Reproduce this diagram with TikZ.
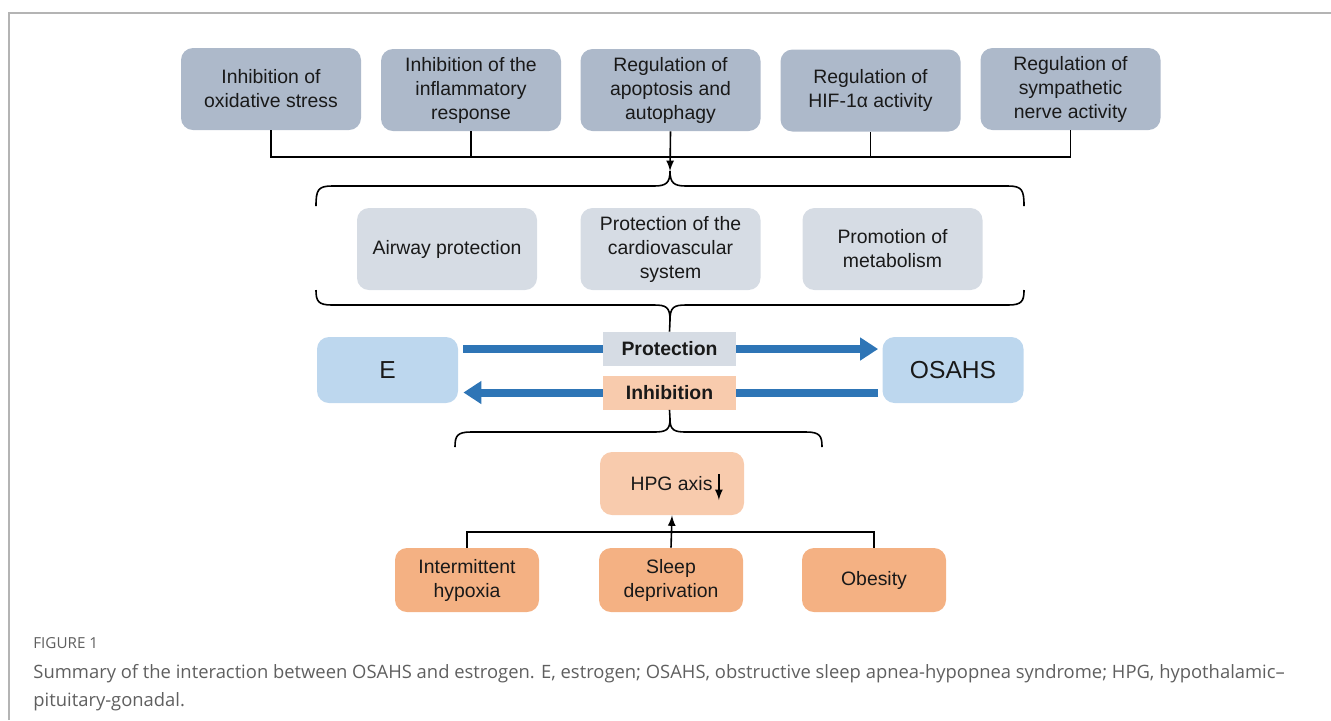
\documentclass[tikz,border=0pt]{standalone}
\usepackage{fontspec}
\setmainfont{Liberation Sans}
\newfontfamily\capfont{Open Sans}
\usetikzlibrary{arrows.meta}
\definecolor{topgray}{HTML}{ADB9CA}
\definecolor{midgray}{HTML}{D6DCE4}
\definecolor{endblue}{HTML}{BDD7EE}
\definecolor{flowblue}{HTML}{2E75B6}
\definecolor{peach}{HTML}{F8CBAD}
\definecolor{causeorange}{HTML}{F4B183}
\definecolor{framegray}{HTML}{B4B4B4}
\definecolor{captext}{HTML}{5F5F5F}
\begin{document}
\begin{tikzpicture}[x=0.5pt,y=-0.5pt,
    box/.style={rounded corners=6pt,align=center,minimum width=90pt,minimum height=41pt,inner sep=2pt,text=black!90,font=\fontsize{9.7}{12}\selectfont},
    topbox/.style={box,fill=topgray},
    midbox/.style={box,fill=midgray},
    endbox/.style={box,fill=endblue,minimum width=70.5pt,minimum height=33pt,font=\fontsize{12.3}{14}\selectfont},
    tagbox/.style={minimum width=66.5pt,minimum height=17pt,inner sep=0pt,text=black!90,font=\bfseries\fontsize{9.7}{12}\selectfont},
    causebox/.style={box,fill=causeorange,minimum width=72pt,minimum height=32pt},
    flow/.style={draw=flowblue,line width=4pt},
    link/.style={line width=0.8pt}]
    \useasboundingbox (0,0) rectangle (1331,720);
    \draw[framegray,line width=1pt] (9,720) -- (9,13) -- (1331,13);

    % mechanisms
    \node[topbox] (b1) at (271,89) {Inhibition of\\oxidative stress};
    \node[topbox] (b2) at (471,90) {Inhibition of the\\inflammatory\\response};
    \node[topbox] (b3) at (670.5,90) {Regulation of\\apoptosis and\\autophagy};
    \node[topbox] (b4) at (870.5,90.5) {Regulation of\\HIF-1α activity};
    \node[topbox] (b5) at (1070.5,89) {Regulation of\\sympathetic\\nerve activity};

    \coordinate (join) at (670,157);
    \coordinate (topcusp) at (670,171);
    \draw[link] (b1.south) -- (b1.south |- join) -- (b5.south |- join) -- (b5.south);
    \foreach \b in {b2,b4}
      \draw[link] (\b.south) -- (\b.south |- join);
    \draw[link,-latex] (b3.south) -- (topcusp);

    % protective effects
    \draw[link] (316,206) .. controls (316,190) and (318,186) .. (332,186) -- (654,186)
      .. controls (666,186) and (670,183) .. (topcusp)
      .. controls (670,183) and (674,186) .. (686,186) -- (1008,186)
      .. controls (1022,186) and (1024,190) .. (1024,206);

    \node[midbox] (m1) at (447,249) {Airway protection};
    \node[midbox] (m2) at (670.5,249) {Protection of the\\cardiovascular\\system};
    \node[midbox] (m3) at (892.5,249) {Promotion of\\metabolism};

    \coordinate (midcusp) at (670,320);
    \draw[link] (316,290) .. controls (316,301) and (318,305) .. (332,305) -- (654,305)
      .. controls (666,305) and (670,307) .. (midcusp)
      .. controls (670,307) and (674,305) .. (686,305) -- (1008,305)
      .. controls (1022,305) and (1024,301) .. (1024,290);

    % E and OSAHS
    \node[endbox] (E) at (387.5,370) {E};
    \node[endbox] (osahs) at (953,370) {OSAHS};
    \node[tagbox,fill=midgray] (prot) at (669.5,349) {Protection};
    \node[tagbox,fill=peach] (inhib) at (669.5,392.5) {Inhibition};
    \draw[link] (midcusp) -- (prot.north);

    \draw[flow,shorten <=2.5pt] (E.east |- prot) -- (prot.west);
    \draw[flow,-{Triangle[length=9pt,width=11pt]},shorten >=2pt] (prot.east) -- (osahs.west |- prot);
    \draw[flow,shorten <=2pt] (osahs.west |- inhib) -- (inhib.east);
    \draw[flow,-{Triangle[length=9pt,width=11pt]},shorten >=2.5pt] (inhib.west) -- (E.east |- inhib);

    % HPG axis
    \coordinate (lowcusp) at (670,419);
    \draw[link] (inhib.south) -- (lowcusp);
    \draw[link] (455,447) .. controls (455,436) and (457,432) .. (471,432) -- (654,432)
      .. controls (666,432) and (670,430) .. (lowcusp)
      .. controls (670,430) and (674,432) .. (686,432) -- (806,432)
      .. controls (820,432) and (822,436) .. (822,447);

    \node[box,fill=peach,minimum width=72pt,minimum height=31.5pt] (hpg) at (672,483.5) {};
    \node[inner sep=0pt,font=\fontsize{9.7}{12}\selectfont,text=black!90] (hpgtxt) at (671.5,484) {HPG axis};
    \draw[link,-latex] ([xshift=3pt,yshift=5pt]hpgtxt.east) -- ++(0,-13pt);

    \node[causebox] (c1) at (467,580) {Intermittent\\hypoxia};
    \node[causebox] (c2) at (671,580) {Sleep\\deprivation};
    \node[causebox] (c3) at (874,580) {Obesity};

    \coordinate (bus) at (671,532);
    \draw[link] (c1.north) -- (c1.north |- bus) -- (c3.north |- bus) -- (c3.north);
    \draw[link,-latex] (c2.north) -- (hpg.south);

    % caption
    \node[anchor=north west,inner sep=0pt,text=captext,font=\capfont\fontsize{7.6}{9}\selectfont] (figlabel) at (33,637) {FIGURE 1};
    \node[anchor=north west,inner sep=0pt,align=left,text=captext,font=\capfont\fontsize{9.2}{14}\selectfont] (caption) at (33,664)
      {Summary of the interaction between OSAHS and estrogen. E, estrogen; OSAHS, obstructive sleep apnea-hypopnea syndrome; HPG, hypothalamic–\\pituitary-gonadal.};
  \end{tikzpicture}
\end{document}
